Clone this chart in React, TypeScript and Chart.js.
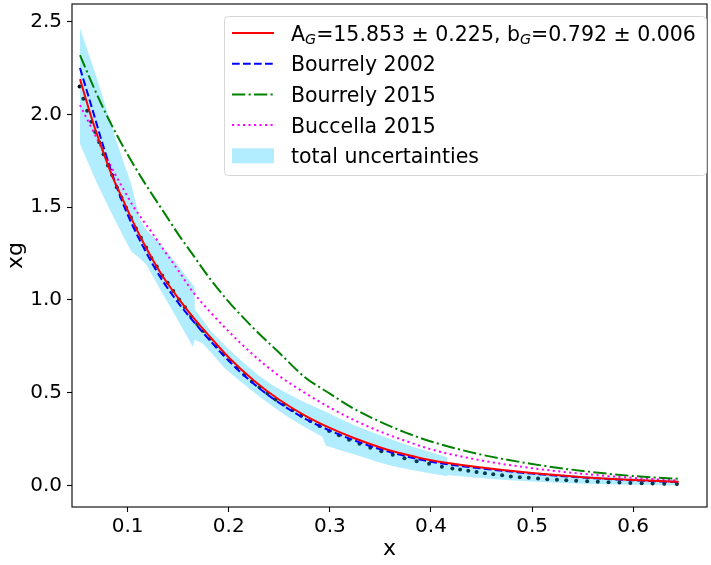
import React, { useEffect, useRef } from 'react';
import { Chart, registerables } from 'chart.js';

Chart.register(...registerables);

const FONT = '"DejaVu Sans", "Liberation Sans", sans-serif';

// axis ticks
const xTicks = [0.1, 0.2, 0.3, 0.4, 0.5, 0.6];
const yTicks = [0.0, 0.5, 1.0, 1.5, 2.0, 2.5];

// model curves, sampled at common x
const curveX = [0.0529, 0.065, 0.075, 0.085, 0.095, 0.105, 0.115, 0.125, 0.135, 0.15, 0.165, 0.18, 0.2, 0.225, 0.25, 0.275, 0.3, 0.325, 0.35, 0.375, 0.4, 0.45, 0.5, 0.55, 0.6, 0.645];
const fitY = [2.19, 1.97, 1.81, 1.665, 1.545, 1.425, 1.315, 1.215, 1.125, 1.01, 0.905, 0.81, 0.69, 0.565, 0.462, 0.378, 0.31, 0.253, 0.205, 0.167, 0.136, 0.097, 0.067, 0.045, 0.029, 0.020];
const bourrely2002Y = [2.25, 2.03, 1.845, 1.675, 1.525, 1.40, 1.29, 1.19, 1.10, 0.985, 0.885, 0.79, 0.672, 0.547, 0.445, 0.362, 0.296, 0.241, 0.195, 0.158, 0.128, 0.092, 0.064, 0.043, 0.028, 0.018];
const bourrely2015Y = [2.32, 2.164, 2.044, 1.934, 1.832, 1.737, 1.647, 1.562, 1.48, 1.355, 1.24, 1.125, 0.99, 0.845, 0.715, 0.585, 0.495, 0.41, 0.343, 0.285, 0.237, 0.166, 0.116, 0.078, 0.051, 0.036];
const buccella2015Y = [2.05, 1.92, 1.81, 1.705, 1.605, 1.51, 1.43, 1.355, 1.275, 1.16, 1.04, 0.945, 0.83, 0.70, 0.59, 0.50, 0.42, 0.35, 0.29, 0.24, 0.195, 0.135, 0.093, 0.063, 0.041, 0.027];

// data points
const dataX = [0.0525, 0.0562, 0.0600, 0.0640, 0.0680, 0.0720, 0.0762, 0.0805, 0.0848, 0.0893, 0.0938, 0.0985, 0.1033, 0.1082, 0.1132, 0.1183, 0.1235, 0.1288, 0.1342, 0.1396, 0.1452, 0.1509, 0.1567, 0.1627, 0.1688, 0.1750, 0.1813, 0.1878, 0.1945, 0.2013, 0.2083, 0.2155, 0.2229, 0.2305, 0.2383, 0.2463, 0.2545, 0.2630, 0.2717, 0.2806, 0.2898, 0.2993, 0.3090, 0.3190, 0.3293, 0.3400, 0.3509, 0.3622, 0.3738, 0.3858, 0.3981, 0.4108, 0.4212, 0.4288, 0.4369, 0.4451, 0.4534, 0.4616, 0.4704, 0.4790, 0.4879, 0.4967, 0.5059, 0.5150, 0.5246, 0.5338, 0.5436, 0.5545, 0.5650, 0.5756, 0.5864, 0.5972, 0.6084, 0.6192, 0.6307, 0.6432];
const dataY = [2.150, 2.085, 2.020, 1.960, 1.905, 1.850, 1.785, 1.725, 1.672, 1.608, 1.553, 1.497, 1.444, 1.387, 1.335, 1.283, 1.226, 1.180, 1.132, 1.092, 1.048, 1.002, 0.960, 0.911, 0.870, 0.833, 0.791, 0.751, 0.710, 0.673, 0.636, 0.597, 0.561, 0.529, 0.496, 0.464, 0.436, 0.405, 0.376, 0.348, 0.320, 0.293, 0.271, 0.247, 0.225, 0.204, 0.184, 0.165, 0.147, 0.130, 0.117, 0.101, 0.091, 0.086, 0.080, 0.073, 0.066, 0.060, 0.055, 0.049, 0.045, 0.041, 0.037, 0.034, 0.031, 0.028, 0.025, 0.023, 0.020, 0.018, 0.016, 0.014, 0.012, 0.011, 0.009, 0.008];

// total uncertainty band
const bandX = [0.0529, 0.0700, 0.0857, 0.0950, 0.1038, 0.1120, 0.1186, 0.1317, 0.1482, 0.1645, 0.1662, 0.1665, 0.1744, 0.1810, 0.1974, 0.2150, 0.2302, 0.2450, 0.2598, 0.2750, 0.2926, 0.2960, 0.3100, 0.3255, 0.3450, 0.3616, 0.3800, 0.3945, 0.4160, 0.4162, 0.4450, 0.4733, 0.5050, 0.5389, 0.5700, 0.6000, 0.6236, 0.6450];
const bandUpper = [2.465, 2.19, 1.91, 1.76, 1.62, 1.435, 1.377, 1.306, 1.198, 1.082, 1.072, 0.950, 0.892, 0.840, 0.748, 0.660, 0.590, 0.535, 0.490, 0.448, 0.405, 0.398, 0.360, 0.322, 0.280, 0.246, 0.212, 0.188, 0.152, 0.128, 0.104, 0.084, 0.070, 0.057, 0.047, 0.040, 0.034, 0.030];
const bandLower = [1.840, 1.625, 1.45, 1.35, 1.26, 1.225, 1.19, 1.06, 0.905, 0.748, 0.785, 0.785, 0.765, 0.725, 0.625, 0.545, 0.480, 0.420, 0.365, 0.315, 0.262, 0.215, 0.190, 0.165, 0.130, 0.105, 0.085, 0.070, 0.050, 0.057, 0.042, 0.030, 0.020, 0.012, 0.007, 0.004, 0.003, -0.002];

const legendLabels = ['Bourrely 2002', 'Bourrely 2015', 'Buccella 2015', 'total uncertainties'];
const fitLabelParts = [
  { t: 'A', sub: false },
  { t: 'G', sub: true },
  { t: '=15.853 \u00b1 0.225, b', sub: false },
  { t: 'G', sub: true },
  { t: '=0.792 \u00b1 0.006', sub: false },
];

const RED = '#ff0000';
const BLUE = '#0000ff';
const GREEN = '#008000';
const MAGENTA = '#ff00ff';
const BAND = 'rgba(0,191,255,0.3)';
const DASH_BLUE = [7.7, 3.3];
const DASH_GREEN = [13.3, 3.3, 2.1, 3.3];
const DASH_MAG = [2.1, 3.4];

const toPts = (xs: number[], ys: number[]) => xs.map((x, i) => ({ x, y: ys[i] }));

const framePlugin = {
  id: 'frame',
  afterDatasetsDraw(chart: any) {
    const { ctx, chartArea: a } = chart;
    ctx.save();
    ctx.strokeStyle = '#000';
    ctx.lineWidth = 1.1;
    ctx.setLineDash([]);
    ctx.strokeRect(a.left, a.top, a.right - a.left, a.bottom - a.top);
    ctx.restore();
  },
};

const legendPlugin = {
  id: 'mplLegend',
  afterDraw(chart: any) {
    const ctx: CanvasRenderingContext2D = chart.ctx;
    ctx.save();
    const x0 = 224.5, y0 = 16.5, w = 482, h = 159, r = 4;
    ctx.beginPath();
    ctx.moveTo(x0 + r, y0);
    ctx.arcTo(x0 + w, y0, x0 + w, y0 + h, r);
    ctx.arcTo(x0 + w, y0 + h, x0, y0 + h, r);
    ctx.arcTo(x0, y0 + h, x0, y0, r);
    ctx.arcTo(x0, y0, x0 + w, y0, r);
    ctx.closePath();
    ctx.fillStyle = 'rgba(255,255,255,0.8)';
    ctx.fill();
    ctx.strokeStyle = '#d6d6d6';
    ctx.lineWidth = 1;
    ctx.stroke();

    const rows = [33, 63.7, 94.4, 125.1, 155.8];
    const hx1 = 232, hx2 = 274, tx = 291;
    const styles = [
      { c: RED, d: [] as number[] },
      { c: BLUE, d: DASH_BLUE },
      { c: GREEN, d: DASH_GREEN },
      { c: MAGENTA, d: DASH_MAG },
    ];
    styles.forEach((s, i) => {
      ctx.beginPath();
      ctx.setLineDash(s.d);
      ctx.strokeStyle = s.c;
      ctx.lineWidth = 2;
      ctx.moveTo(hx1, rows[i]);
      ctx.lineTo(hx2, rows[i]);
      ctx.stroke();
    });
    ctx.setLineDash([]);
    ctx.fillStyle = BAND;
    ctx.fillRect(hx1, rows[4] - 7.5, hx2 - hx1, 15);

    ctx.fillStyle = '#000';
    ctx.textBaseline = 'alphabetic';
    ctx.textAlign = 'left';
    const fs = 20.5;
    let cx = tx;
    const base0 = rows[0] + 7.5;
    fitLabelParts.forEach((p) => {
      if (p.sub) {
        ctx.font = `italic ${fs * 0.7}px ${FONT}`;
        ctx.fillText(p.t, cx, base0 + 3.8);
      } else {
        ctx.font = `${fs}px ${FONT}`;
        ctx.fillText(p.t, cx, base0);
      }
      cx += ctx.measureText(p.t).width;
    });
    ctx.font = `${fs}px ${FONT}`;
    legendLabels.forEach((lab, i) => {
      ctx.fillText(lab, tx, rows[i + 1] + 7.5);
    });
    ctx.restore();
  },
};

export default function App() {
  const ref = useRef<HTMLCanvasElement>(null);
  useEffect(() => {
    const canvas = ref.current;
    if (!canvas) return;
    const lineBase = { pointRadius: 0, fill: false, borderWidth: 2, cubicInterpolationMode: 'monotone' as const };
    const chart = new Chart(canvas, {
      type: 'line',
      data: {
        datasets: [
          { ...lineBase, label: 'fit', data: toPts(curveX, fitY), borderColor: RED, order: 1 },
          { ...lineBase, label: 'Bourrely 2002', data: toPts(curveX, bourrely2002Y), borderColor: BLUE, borderDash: DASH_BLUE, order: 2 },
          { ...lineBase, label: 'Bourrely 2015', data: toPts(curveX, bourrely2015Y), borderColor: GREEN, borderDash: DASH_GREEN, order: 3 },
          { ...lineBase, label: 'Buccella 2015', data: toPts(curveX, buccella2015Y), borderColor: MAGENTA, borderDash: DASH_MAG, order: 4 },
          { label: 'band upper', data: toPts(bandX, bandUpper), borderColor: 'rgba(0,0,0,0)', borderWidth: 1, pointRadius: 0, backgroundColor: BAND, fill: '+1', tension: 0, order: 20 },
          { label: 'band lower', data: toPts(bandX, bandLower), borderColor: 'rgba(0,0,0,0)', borderWidth: 1, pointRadius: 0, fill: false, tension: 0, order: 21 },
          { label: 'data', data: toPts(dataX, dataY), showLine: false, pointRadius: 2, pointBackgroundColor: '#000', pointBorderColor: 'rgba(0,0,0,0)', pointBorderWidth: 0, fill: false, order: 30 },
        ],
      },
      options: {
        animation: false,
        responsive: false,
        events: [],
        layout: { padding: { top: 4, right: 2, left: 0, bottom: 0 } },
        plugins: { legend: { display: false }, tooltip: { enabled: false } },
        scales: {
          x: {
            type: 'linear',
            min: 0.045,
            max: 0.673,
            afterBuildTicks: (s: any) => { s.ticks = xTicks.map((v) => ({ value: v })); },
            afterFit: (s: any) => { s.height = 58; s.paddingLeft = 0; s.paddingRight = 0; },
            grid: { display: true, drawOnChartArea: false, drawTicks: true, tickLength: 5, tickColor: '#000', tickWidth: 1.1 },
            border: { display: false },
            ticks: { color: '#000', font: { family: FONT, size: 20 }, padding: 3, maxRotation: 0, autoSkip: false, callback: (v: any) => Number(v).toFixed(1) },
            title: { display: true, text: 'x', color: '#000', font: { family: FONT, size: 22 }, padding: { top: 0, bottom: 3 } },
          },
          y: {
            type: 'linear',
            min: -0.116,
            max: 2.595,
            afterBuildTicks: (s: any) => { s.ticks = yTicks.map((v) => ({ value: v })); },
            afterFit: (s: any) => { s.width = 72; s.paddingTop = 0; s.paddingBottom = 0; },
            grid: { display: true, drawOnChartArea: false, drawTicks: true, tickLength: 5, tickColor: '#000', tickWidth: 1.1 },
            border: { display: false },
            ticks: { color: '#000', font: { family: FONT, size: 20 }, padding: 5, autoSkip: false, callback: (v: any) => Number(v).toFixed(1) },
            title: { display: true, text: 'xg', color: '#000', font: { family: FONT, size: 22 }, padding: { top: 3, bottom: 0 } },
          },
        },
      },
      plugins: [framePlugin, legendPlugin],
    });
    return () => chart.destroy();
  }, []);
  return (
    <div style={{ position: 'fixed', left: 0, top: 0, width: 711, height: 565, background: '#fff' }}>
      <canvas ref={ref} width={711} height={565} style={{ display: 'block', width: 711, height: 565 }} />
    </div>
  );
}
